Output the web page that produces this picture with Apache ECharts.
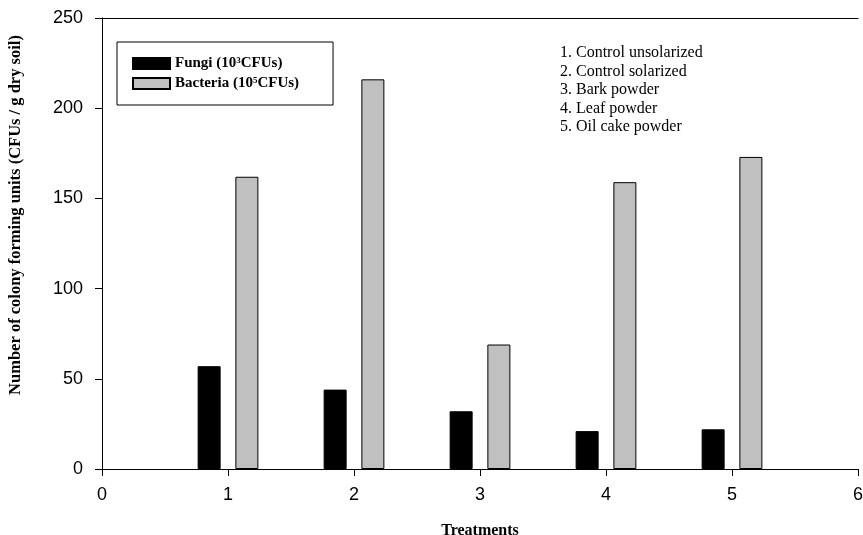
<!DOCTYPE html>
<html>
<head>
<meta charset="utf-8">
<script src="https://cdn.jsdelivr.net/npm/echarts@6/dist/echarts.min.js"></script>
<style>
  html, body { margin: 0; padding: 0; background: #fff; }
  #main { width: 863px; height: 535px; }
</style>
</head>
<body>
<div id="main"></div>
<script>
// data
const treatments = [1, 2, 3, 4, 5]
const fungi = [57, 44, 32, 21, 22]
const bacteria = [162, 216, 69, 159, 173]
const seriesNames = ['Fungi', 'Bacteria']
const exponents = { Fungi: '3', Bacteria: '5' }
const treatmentLabels = [
  '1. Control unsolarized',
  '2. Control solarized',
  '3. Bark powder',
  '4. Leaf powder',
  '5. Oil cake powder'
]
const yTicks = { min: 0, max: 250, step: 50 }
const xTicks = { min: 0, max: 6, step: 1 }

const serif = '"Liberation Serif", "DejaVu Serif", serif'
const sans = '"Liberation Sans", Arial, sans-serif'

const chart = echarts.init(document.getElementById('main'))

const pairs = arr => treatments.map((t, i) => [t, arr[i]])

const option = {
  backgroundColor: '#fff',
  animation: false,
  grid: { left: 102, right: 5, top: 18, bottom: 66, containLabel: false, outerBoundsMode: 'none' },
  legend: {
    orient: 'vertical',
    left: 117,
    top: 42,
    padding: [14, 34, 14, 15],
    borderColor: '#000',
    borderWidth: 1,
    icon: 'rect',
    itemWidth: 37,
    itemHeight: 11,
    itemGap: 5,
    selectedMode: false,
    data: seriesNames,
    formatter: name => '{b|' + name + ' (10}{sup|' + exponents[name] + '}{b|CFUs)}',
    textStyle: {
      rich: {
        b: { fontFamily: serif, fontWeight: 'bold', fontSize: 15, color: '#000' },
        sup: { fontFamily: serif, fontWeight: 'bold', fontSize: 9, color: '#000', verticalAlign: 'top', padding: [0, 0, 6, 0] }
      }
    }
  },
  xAxis: [
    {
      type: 'value',
      min: xTicks.min,
      max: xTicks.max,
      interval: xTicks.step,
      position: 'bottom',
      name: 'Treatments',
      nameLocation: 'middle',
      nameGap: 54,
      nameTextStyle: { fontFamily: serif, fontWeight: 'bold', fontSize: 16, color: '#000' },
      axisLine: { lineStyle: { color: '#000', width: 1 } },
      axisTick: { inside: false, length: 7, lineStyle: { color: '#000' } },
      axisLabel: { fontFamily: sans, fontSize: 18, color: '#000', margin: 17 },
      splitLine: { show: false }
    },
    {
      type: 'value',
      min: xTicks.min,
      max: xTicks.max,
      position: 'top',
      axisLine: { show: true, lineStyle: { color: '#000', width: 1 } },
      axisTick: { show: false },
      axisLabel: { show: false },
      splitLine: { show: false }
    }
  ],
  yAxis: {
    type: 'value',
    min: yTicks.min,
    max: yTicks.max,
    interval: yTicks.step,
    axisLine: { show: true, lineStyle: { color: '#000', width: 1 } },
    axisTick: { show: true, inside: false, length: 7, lineStyle: { color: '#000' } },
    axisLabel: { fontFamily: sans, fontSize: 18, color: '#000', margin: 19 },
    splitLine: { show: false }
  },
  graphic: [
    {
      type: 'text',
      x: 16,
      y: 215,
      rotation: Math.PI / 2,
      style: {
        text: 'Number of colony forming units (CFUs / g dry soil)',
        fontFamily: serif,
        fontWeight: 'bold',
        fontSize: 16.5,
        fill: '#000',
        align: 'center',
        verticalAlign: 'middle'
      }
    },
    {
      type: 'text',
      left: 560,
      top: 44,
      style: {
        text: treatmentLabels.join('\n'),
        fontFamily: serif,
        fontSize: 16,
        lineHeight: 18.4,
        fill: '#000'
      }
    }
  ],
  series: [
    {
      name: seriesNames[0],
      type: 'bar',
      xAxisIndex: 0,
      data: pairs(fungi),
      barWidth: 23,
      barGap: '64%',
      itemStyle: { color: '#000', borderColor: '#000', borderWidth: 1 }
    },
    {
      name: seriesNames[1],
      type: 'bar',
      xAxisIndex: 0,
      data: pairs(bacteria),
      barWidth: 23,
      barGap: '64%',
      itemStyle: { color: '#c0c0c0', borderColor: '#000', borderWidth: 1 }
    }
  ]
}

chart.setOption(option)
</script>
</body>
</html>
